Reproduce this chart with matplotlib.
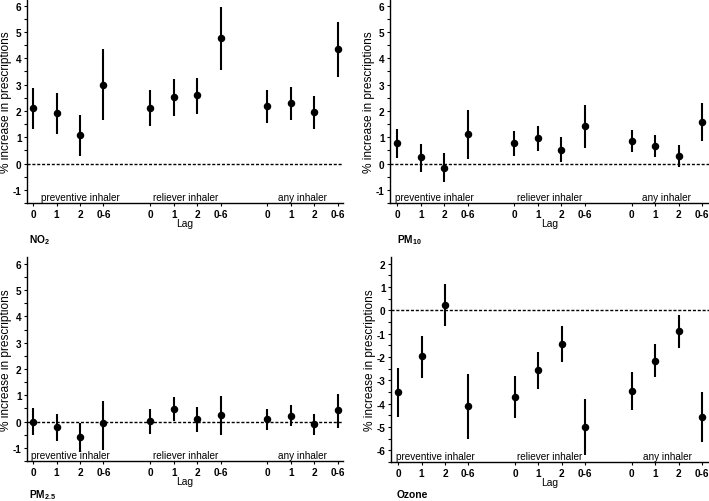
"""Inhaler prescriptions vs air pollution lags - four panel dot/CI plot"""
import numpy as np
import matplotlib.pyplot as plt
from matplotlib.transforms import blended_transform_factory

plt.rcParams['font.family'] = ['Liberation Sans', 'DejaVu Sans']
plt.rcParams['mathtext.fontset'] = 'custom'
plt.rcParams['mathtext.rm'] = 'Liberation Sans'
plt.rcParams['mathtext.bf'] = 'Liberation Sans:bold'

# Categories
lags = ['0', '1', '2', '0-6']
groups = ['preventive inhaler', 'reliever inhaler', 'any inhaler']

# Estimates and 95% CI (order: preventive 0,1,2,0-6 | reliever ... | any ...)
no2_est = [2.10, 1.92, 1.07, 2.99, 2.12, 2.51, 2.59, 4.75, 2.18, 2.29, 1.96, 4.34]
no2_lo = [1.30, 1.13, 0.30, 1.66, 1.42, 1.82, 1.90, 3.55, 1.54, 1.66, 1.33, 3.27]
no2_hi = [2.87, 2.69, 1.83, 4.34, 2.79, 3.20, 3.26, 5.96, 2.79, 2.90, 2.58, 5.39]

pm10_est = [0.78, 0.23, -0.17, 1.13, 0.79, 0.96, 0.53, 1.43, 0.86, 0.67, 0.30, 1.58]
pm10_lo = [0.22, -0.34, -0.72, 0.18, 0.30, 0.47, 0.04, 0.59, 0.44, 0.23, -0.15, 0.84]
pm10_hi = [1.30, 0.76, 0.39, 2.04, 1.25, 1.43, 0.99, 2.24, 1.28, 1.10, 0.72, 2.30]

pm25_est = [0.00, -0.22, -0.58, -0.07, 0.02, 0.48, 0.10, 0.24, 0.09, 0.23, -0.11, 0.43]
pm25_lo = [-0.52, -0.74, -1.15, -1.07, -0.46, 0.02, -0.41, -0.52, -0.32, -0.18, -0.52, -0.26]
pm25_hi = [0.51, 0.27, -0.05, 0.78, 0.49, 0.93, 0.54, 0.98, 0.49, 0.62, 0.30, 1.06]

o3_est = [-3.49, -1.97, 0.24, -4.10, -3.70, -2.57, -1.44, -4.98, -3.47, -2.15, -0.90, -4.58]
o3_lo = [-4.55, -2.89, -0.66, -5.50, -4.61, -3.38, -2.23, -6.18, -4.27, -2.86, -1.60, -5.66]
o3_hi = [-2.48, -1.09, 1.12, -2.72, -2.81, -1.80, -0.68, -3.78, -2.64, -1.44, -0.21, -3.49]

# x positions: 4 lags per group, one empty slot between groups
xpos = np.array([g * 5 + i for g in range(len(groups)) for i in range(len(lags))])
xlabels = lags * len(groups)

fig = plt.figure(figsize=(7.09, 5.02), dpi=100)
fig.patch.set_facecolor('white')

panels = [
    # rect, name, name pos, est, lo, hi, ylim, yticks, xlim, group label centres
    ([0.0381, 0.5936, 0.4457, 0.4064], r'$\mathbf{NO_2}$', (29 / 709, 0.522),
     no2_est, no2_lo, no2_hi, (-1.16, 6.25), range(-1, 7), (-0.26, 13.23), [2.0, 6.5, 11.5]),
    ([0.5501, 0.5936, 0.4499, 0.4064], r'$\mathbf{PM_{10}}$', (397 / 709, 0.522),
     pm10_est, pm10_lo, pm10_hi, (-1.16, 6.25), range(-1, 7), (-0.31, 13.3), [1.6, 6.5, 11.5]),
    ([0.0381, 0.0797, 0.4457, 0.4064], r'$\mathbf{PM_{2.5}}$', (29 / 709, 0.013),
     pm25_est, pm25_lo, pm25_hi, (-1.27, 6.26), range(-1, 7), (-0.26, 13.23), [1.6, 6.5, 11.5]),
    ([0.5515, 0.0777, 0.4485, 0.4084], 'Ozone', (397 / 709, 0.013),
     o3_est, o3_lo, o3_hi, (-6.47, 2.29), range(-6, 3), (-0.31, 13.3), [1.6, 6.5, 11.5]),
]

for rect, name, npos, est, lo, hi, ylim, yticks, xlim, gcent in panels:
    ax = fig.add_axes(rect)
    est = np.array(est)
    yerr = [est - np.array(lo), np.array(hi) - est]
    ax.errorbar(xpos, est, yerr=yerr, fmt='o', color='black', markersize=4.4,
                elinewidth=1.5, capsize=0, zorder=3)
    ax.axhline(0, color='black', linestyle=(0, (2.2, 1.3)), linewidth=1.0, zorder=2)

    ax.set_xlim(*xlim)
    ax.set_ylim(*ylim)
    ax.set_xticks(xpos)
    ax.set_xticklabels(xlabels, fontsize=7.2, fontweight='bold')
    ax.set_yticks(list(yticks))
    ax.set_yticks(np.arange(min(yticks) - 0.5, max(yticks) + 0.5, 1.0), minor=True)
    ax.set_yticklabels([str(v) for v in yticks], fontsize=7.2, fontweight='bold')
    ax.tick_params(axis='both', which='both', direction='out', length=2.5, width=0.8,
                   pad=1.5, color='black')
    for s in ['top', 'right']:
        ax.spines[s].set_visible(False)
    for s in ['left', 'bottom']:
        ax.spines[s].set_linewidth(1.0)

    ax.set_ylabel('% increase in prescriptions', fontsize=8.6)
    ax.yaxis.set_label_coords(-15 / (rect[2] * 709), 0.5)
    ax.set_xlabel('Lag', fontsize=7.4, labelpad=-0.5)

    trans = blended_transform_factory(ax.transData, ax.transAxes)
    for g, c in zip(groups, gcent):
        ax.text(c, 0.004, g, transform=trans, ha='center', va='bottom', fontsize=7.2)

    # panel name under the axis
    fig.text(npos[0], npos[1], name, fontsize=7.4, fontweight='bold',
             ha='left', va='center')

plt.savefig('out.png', dpi=100, facecolor='white')
plt.close()
